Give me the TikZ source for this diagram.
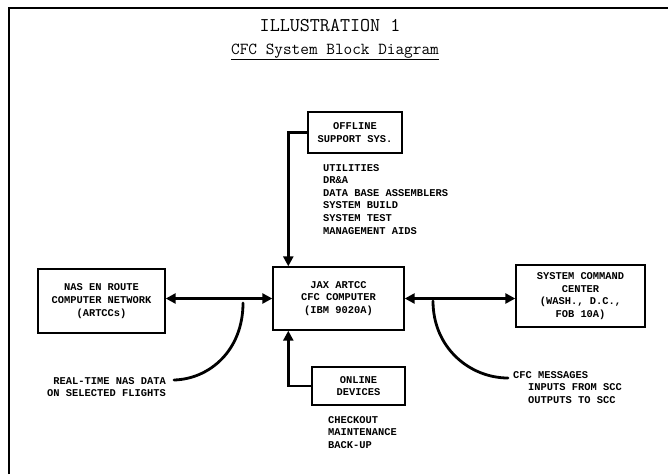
\documentclass[tikz,border=0pt]{standalone}
\usepackage{fontspec}
\newfontfamily\bodyfam{Liberation Mono}
\usetikzlibrary{arrows.meta}
\newcommand\bodyf{\fontsize{10.4}{12.6}\selectfont\bodyfam\bfseries}
\begin{document}
\begin{tikzpicture}[x=1pt,y=-1pt,
  box/.style={draw,line width=1.4pt,inner sep=0pt,align=center,font=\bodyf},
  lbl/.style={inner sep=0pt,font=\bodyf},
  arr/.style={line width=2.6pt,-{Triangle[length=10pt,width=10pt]}},
  darr/.style={line width=2.6pt,{Triangle[length=10pt,width=10pt]}-{Triangle[length=10pt,width=10pt]}},
  flow/.style={line width=2.8pt,line cap=round}]
\useasboundingbox (0,0) rectangle (668,474);
\fill[white] (0,0) rectangle (668,474);
% frame
\draw[line width=1.6pt] (9,474) -- (9,8) -- (668,8);
% titles
\node[inner sep=0pt,font=\ttfamily\fontsize{19.5}{20}\selectfont] (title) at (330,26) {ILLUSTRATION 1};
\node[inner sep=0pt,font=\ttfamily\fontsize{16.8}{17}\selectfont] (sub) at (335,51) {CFC System Block Diagram};
\draw[line width=1.1pt] ([yshift=-1pt]sub.south west) -- ([yshift=-1pt]sub.south east);
% boxes
\node[box,minimum width=94pt,minimum height=41pt] (offline) at (355,132.5) {OFFLINE\\SUPPORT SYS.};
\node[box,minimum width=131pt,minimum height=63pt] (jax) at (338.5,298.5) {JAX ARTCC\\CFC COMPUTER\\(IBM 9020A)};
\node[box,minimum width=127pt,minimum height=64pt] (nas) at (101.5,301) {NAS EN ROUTE\\COMPUTER NETWORK\\(ARTCCs)};
\node[box,minimum width=129pt,minimum height=62pt] (scc) at (580.5,296) {SYSTEM COMMAND\\CENTER\\(WASH., D.C.,\\FOB 10A)};
\node[box,minimum width=93pt,minimum height=38pt] (online) at (358.5,386) {ONLINE\\DEVICES};
% lists
\node[lbl,anchor=north west,align=left] (offlist) at (323,164) {UTILITIES\\DR\&A\\DATA BASE ASSEMBLERS\\SYSTEM BUILD\\SYSTEM TEST\\MANAGEMENT AIDS};
\node[lbl,anchor=north west,align=left] (onlist) at (328,416) {CHECKOUT\\MAINTENANCE\\BACK-UP};
\node[lbl,anchor=north east,align=right] (rtd) at (166,377) {REAL-TIME NAS DATA\\ON SELECTED FLIGHTS};
\node[lbl,anchor=north west,align=left] (cfcm) at (513,371) {CFC MESSAGES\\\hspace*{15pt}INPUTS FROM SCC\\\hspace*{15pt}OUTPUTS TO SCC};
% connectors
\coordinate (jt) at ([xshift=16pt]jax.north west);
\coordinate (jb) at ([xshift=16pt]jax.south west);
\draw[arr] (offline.west) -| (jt);
\draw[arr] (online.west) -| (jb);
\draw[darr] (nas.east |- jax.west) -- (jax.west);
\draw[darr] (jax.east) -- (jax.east -| scc.west);
% flow curves
\coordinate (l1) at (243,303);
\coordinate (l2) at (174,380);
\coordinate (r1) at (433,301);
\coordinate (r2) at (508,378);
\draw[flow] (l1) .. controls (243,350) and (210,379) .. (l2);
\draw[flow] (r1) .. controls (433,348) and (470,378) .. (r2);
\end{tikzpicture}
\end{document}
